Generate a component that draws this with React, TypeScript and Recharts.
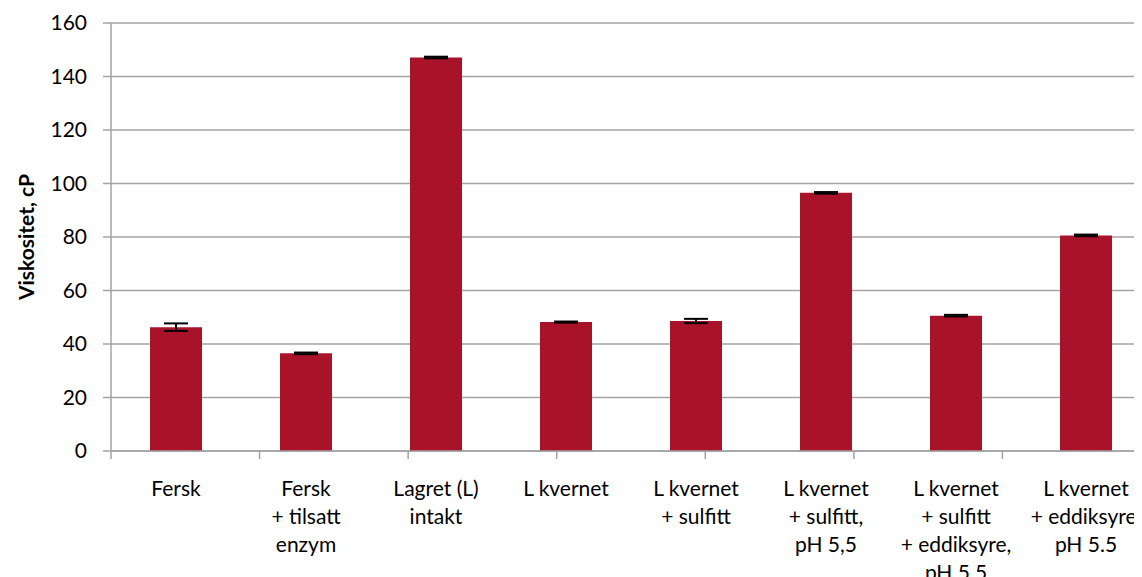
import React from 'react';
import { BarChart, Bar, XAxis, YAxis, CartesianGrid, ErrorBar } from 'recharts';

const categories = [
  'Fersk',
  'Fersk\n+ tilsatt\nenzym',
  'Lagret (L)\nintakt',
  'L kvernet',
  'L kvernet\n+ sulfitt',
  'L kvernet\n+ sulfitt,\npH 5,5',
  'L kvernet\n+ sulfitt\n+ eddiksyre,\npH 5.5',
  'L kvernet\n+ eddiksyre,\npH 5.5',
];
const viscosity = [46.3, 36.5, 147.1, 48.2, 48.6, 96.5, 50.6, 80.6];
const viscosityErr = [1.4, 0.3, 0.3, 0.2, 0.8, 0.3, 0.3, 0.3];
const yTicks = [0, 20, 40, 60, 80, 100, 120, 140, 160];
const edgeTicks = [0, 1, 2, 3, 4, 5, 6, 7, 8];

const chartData = categories.map((name, i) => ({
  name,
  value: viscosity[i],
  err: viscosityErr[i],
}));

const FONT = 'Lato, "Open Sans", sans-serif';
const GRID = '#a3a3a3';

const CategoryTick = (props: any) => {
  const { x, y, payload } = props;
  const lines: string[] = String(payload.value).split('\n');
  return (
    <text x={x} y={y} textAnchor="middle" fontFamily={FONT} fontSize={21} fill="#000">
      {lines.map((line, i) => (
        <tspan key={i} x={x} dy={i === 0 ? 36 : 28}>
          {line}
        </tspan>
      ))}
    </text>
  );
};

const YLabel = (props: any) => {
  const { viewBox } = props;
  const cx = viewBox.x + 17;
  const cy = viewBox.y + viewBox.height / 2;
  return (
    <text
      x={cx}
      y={cy}
      transform={`rotate(-90, ${cx}, ${cy})`}
      textAnchor="middle"
      dominantBaseline="central"
      fontFamily={FONT}
      fontSize={21}
      fontWeight="bold"
      fill="#000"
    >
      Viskositet, cP
    </text>
  );
};

export default function App() {
  return (
    <div style={{ width: 1134, height: 569, overflow: 'hidden' }}>
      <BarChart
        width={1160}
        height={569}
        data={chartData}
        margin={{ top: 15, right: 17, left: 0, bottom: 0 }}
      >
        <CartesianGrid xAxisId="cat" vertical={false} stroke={GRID} strokeWidth={1.5} />
        <XAxis
          xAxisId="cat"
          dataKey="name"
          axisLine={false}
          tickLine={false}
          interval={0}
          height={125}
          tick={<CategoryTick />}
        />
        <XAxis
          xAxisId="aEdges"
          type="number"
          domain={[0, 8]}
          ticks={edgeTicks}
          tick={() => <g />}
          tickSize={8}
          height={1}
          stroke={GRID}
          strokeWidth={1.5}
          allowDataOverflow
        />
        <YAxis
          width={103}
          domain={[0, 160]}
          ticks={yTicks}
          tickSize={8}
          tickMargin={16}
          stroke={GRID}
          strokeWidth={1.5}
          tick={{ fill: '#000', fontSize: 21, fontFamily: FONT }}
          label={<YLabel />}
        />
        <Bar xAxisId="cat" dataKey="value" fill="#a8132a" barSize={52} isAnimationActive={false}>
          <ErrorBar dataKey="err" width={12} strokeWidth={2} stroke="#000" isAnimationActive={false} />
        </Bar>
      </BarChart>
    </div>
  );
}
